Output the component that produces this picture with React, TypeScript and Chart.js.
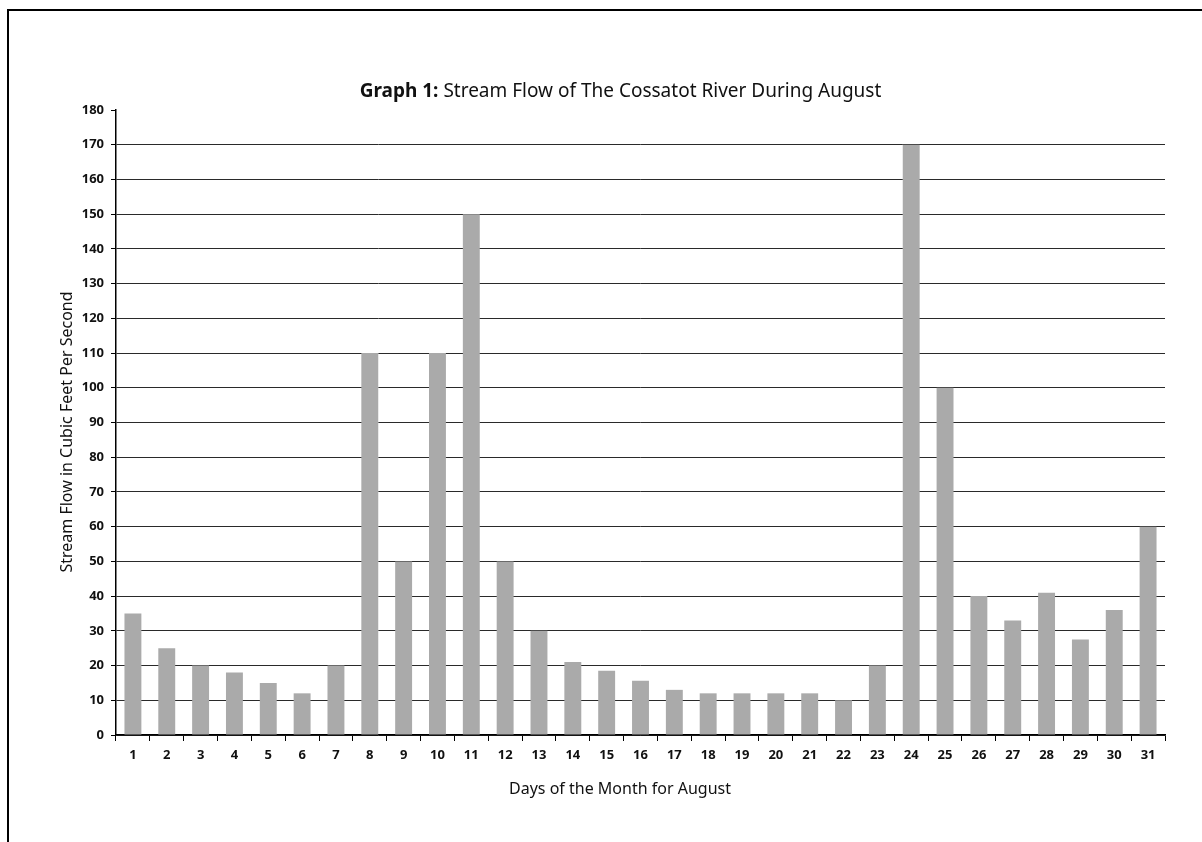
import React, { useEffect, useRef } from "react";
import { Chart, registerables } from "chart.js";

Chart.register(...registerables);

// ---- data ----
const days = [
  "1", "2", "3", "4", "5", "6", "7", "8", "9", "10", "11", "12", "13", "14", "15", "16",
  "17", "18", "19", "20", "21", "22", "23", "24", "25", "26", "27", "28", "29", "30", "31",
];
const streamFlow = [
  35, 25, 20, 18, 15, 12, 20, 110, 50, 110, 150, 50, 30, 21, 18.5, 15.6,
  13, 12, 12, 12, 12, 10, 20, 170, 100, 40, 33, 41, 27.5, 36, 60,
];
const yTickValues = [0, 10, 20, 30, 40, 50, 60, 70, 80, 90, 100, 110, 120, 130, 140, 150, 160, 170, 180];

const titleBold = "Graph 1:";
const titleRest = " Stream Flow of The Cossatot River During August";
const xAxisTitle = "Days of the Month for August";
const yAxisTitle = "Stream Flow in Cubic Feet Per Second";

const FONT = "'Noto Sans', 'Open Sans', sans-serif";

const titlesPlugin = {
  id: "customTitles",
  afterDraw(chart: any) {
    const ctx = chart.ctx as CanvasRenderingContext2D;
    ctx.save();
    ctx.fillStyle = "#111";
    ctx.textBaseline = "alphabetic";
    ctx.textAlign = "left";
    const boldFont = `bold 19px ${FONT}`;
    const normFont = `19px ${FONT}`;
    ctx.font = boldFont;
    const w1 = ctx.measureText(titleBold).width;
    ctx.font = normFont;
    const w2 = ctx.measureText(titleRest).width;
    const cx = 620.5;
    const x0 = cx - (w1 + w2) / 2;
    ctx.font = boldFont;
    ctx.fillText(titleBold, x0, 96.5);
    ctx.font = normFont;
    ctx.fillText(titleRest, x0 + w1, 96.5);

    ctx.font = `16px ${FONT}`;
    ctx.textAlign = "center";
    ctx.fillText(xAxisTitle, 620, 794);

    ctx.translate(67, 432);
    ctx.rotate(-Math.PI / 2);
    ctx.textBaseline = "middle";
    ctx.fillText(yAxisTitle, 0, 0);
    ctx.restore();
  },
};

export default function App() {
  const canvasRef = useRef<HTMLCanvasElement | null>(null);

  useEffect(() => {
    if (!canvasRef.current) return;
    const chart = new Chart(canvasRef.current, {
      type: "bar",
      data: {
        labels: days,
        datasets: [
          {
            data: streamFlow,
            backgroundColor: "#aaaaaa",
            borderWidth: 0,
            barPercentage: 0.5,
            categoryPercentage: 1,
          },
        ],
      },
      options: {
        responsive: false,
        animation: false,
        layout: { padding: { top: 110, right: 37, left: 0, bottom: 0 } },
        plugins: {
          legend: { display: false },
          title: { display: false },
          tooltip: { enabled: false },
        },
        scales: {
          x: {
            afterFit: (scale: any) => {
              scale.height = 107;
            },
            grid: {
              offset: true,
              drawOnChartArea: false,
              drawTicks: true,
              tickLength: 6,
              tickColor: "#000",
              tickWidth: 1,
            },
            border: { display: true, color: "#000", width: 1.5 },
            ticks: {
              color: "#111",
              font: { family: FONT, size: 13, weight: "bold" },
              padding: 6,
              maxRotation: 0,
              autoSkip: false,
            },
          },
          y: {
            min: 0,
            max: 180,
            afterFit: (scale: any) => {
              scale.width = 116;
            },
            afterBuildTicks: (scale: any) => {
              scale.ticks = yTickValues.map((v) => ({ value: v }));
            },
            grid: {
              color: (c: any) => (c.tick && c.tick.value === 180 ? "rgba(0,0,0,0)" : "#2a2a2a"),
              lineWidth: 1,
              drawTicks: true,
              tickLength: 5,
              tickColor: "#000",
            },
            border: { display: true, color: "#000", width: 1.5 },
            ticks: {
              color: "#111",
              font: { family: FONT, size: 13, weight: "bold" },
              padding: 7,
              autoSkip: false,
            },
          },
        },
      },
      plugins: [titlesPlugin],
    });
    return () => chart.destroy();
  }, []);

  return (
    <div
      style={{
        position: "fixed",
        left: 0,
        top: 0,
        width: 1202,
        height: 842,
        overflow: "hidden",
        background: "#fff",
      }}
    >
      <canvas ref={canvasRef} width={1202} height={842} style={{ position: "absolute", left: 0, top: 0 }} />
      <div
        style={{
          position: "absolute",
          left: 7,
          top: 9,
          width: 1300,
          height: 900,
          borderTop: "2px solid #000",
          borderLeft: "2px solid #000",
          pointerEvents: "none",
        }}
      />
    </div>
  );
}
